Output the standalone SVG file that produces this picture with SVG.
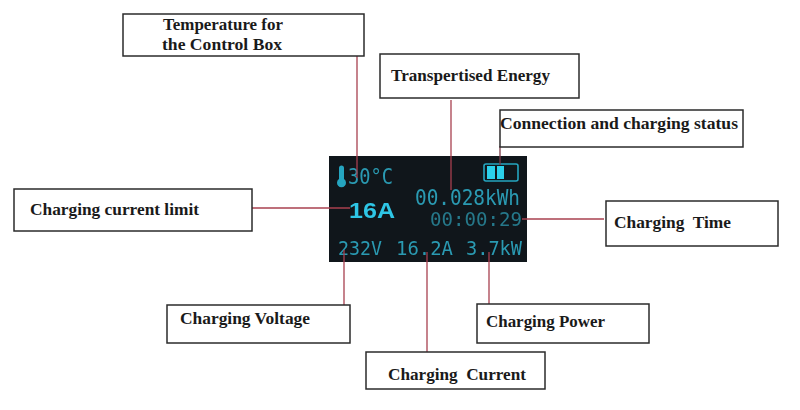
<svg xmlns="http://www.w3.org/2000/svg" width="800" height="410" viewBox="0 0 800 410">
<style>
.box{fill:#fff;stroke:#2b2b2b;stroke-width:1.5}
.lab{font-family:"Liberation Serif",serif;font-weight:bold;font-size:16.5px;fill:#1a1a1a}
.con{stroke:#a8404f;stroke-width:1.3;fill:none}
.scr{font-family:"DejaVu Sans Mono","Liberation Mono",monospace;fill:#2a9ab2;filter:url(#soft)}
</style>
<defs><filter id="soft" x="-5%" y="-20%" width="110%" height="140%"><feGaussianBlur stdDeviation="0.5"/></filter></defs>
<rect width="800" height="410" fill="#fff"/>
<g id="display">
<rect x="329" y="156" width="198" height="106" fill="#10161b"/>
<path d="M339 168a2.5 2.5 0 0 1 5 0v11a4.5 4.5 0 1 1-5 0z" fill="#25a5c0"/>
<text class="scr" x="348" y="184" font-size="21" textLength="45" lengthAdjust="spacingAndGlyphs">30°C</text>
<rect x="484" y="164" width="34" height="17" rx="2" fill="none" stroke="#25a5c0" stroke-width="1.6"/>
<rect x="487" y="166" width="8" height="13" fill="#2bd0ea"/>
<rect x="497" y="166" width="7" height="13" fill="#2bd0ea"/>
<text class="scr" x="415" y="205" font-size="21" textLength="105" lengthAdjust="spacingAndGlyphs">00.028kWh</text>
<text x="349" y="218" font-family="Liberation Sans,sans-serif" font-weight="bold" font-size="22" fill="#2fc6e6" textLength="46" lengthAdjust="spacingAndGlyphs" filter="url(#soft)">16A</text>
<text class="scr" x="430" y="226" font-size="19" textLength="92" lengthAdjust="spacingAndGlyphs" style="fill:#25788a">00:00:29</text>
<text class="scr" x="338" y="255" font-size="20" textLength="44" lengthAdjust="spacingAndGlyphs">232V</text>
<text class="scr" x="396" y="255" font-size="20" textLength="57" lengthAdjust="spacingAndGlyphs">16.2A</text>
<text class="scr" x="466" y="255" font-size="20" textLength="56" lengthAdjust="spacingAndGlyphs">3.7kW</text>
</g>
<g id="connectors">
<path class="con" d="M357 54V178"/>
<path class="con" d="M451 100V190"/>
<path class="con" d="M500 146V165" style="stroke:#7a3a48"/>
<path class="con" d="M252 208H350"/>
<path class="con" d="M522 219H604"/>
<path class="con" d="M344 250V306"/>
<path class="con" d="M427 252V352"/>
<path class="con" d="M489 252V304"/>
</g>
<g id="temperature"><rect class="box" x="123" y="14" width="241" height="42"/><text class="lab" x="163" y="30" textLength="120" lengthAdjust="spacingAndGlyphs">Temperature for</text><text class="lab" x="162" y="50" textLength="120" lengthAdjust="spacingAndGlyphs">the Control Box</text></g>
<g id="energy"><rect class="box" x="380" y="54" width="199" height="44"/><text class="lab" x="391" y="81" textLength="159" lengthAdjust="spacingAndGlyphs">Transpertised Energy</text></g>
<g id="status"><rect class="box" x="500" y="110" width="243" height="37"/><text class="lab" x="500" y="129" textLength="238" lengthAdjust="spacingAndGlyphs">Connection and charging status</text></g>
<g id="limit"><rect class="box" x="14" y="189" width="238" height="42"/><text class="lab" x="30" y="215" textLength="169" lengthAdjust="spacingAndGlyphs">Charging current limit</text></g>
<g id="time"><rect class="box" x="606" y="201" width="172" height="45"/><text class="lab" x="614" y="228" textLength="117" lengthAdjust="spacingAndGlyphs" xml:space="preserve">Charging  Time</text></g>
<g id="voltage"><rect class="box" x="167" y="305" width="183" height="38"/><text class="lab" x="180" y="324" textLength="130" lengthAdjust="spacingAndGlyphs">Charging Voltage</text></g>
<g id="power"><rect class="box" x="477" y="304" width="172" height="39"/><text class="lab" x="486" y="327" textLength="119" lengthAdjust="spacingAndGlyphs">Charging Power</text></g>
<g id="current"><rect class="box" x="366" y="352" width="179" height="37"/><text class="lab" x="388" y="380" textLength="138" lengthAdjust="spacingAndGlyphs" xml:space="preserve">Charging  Current</text></g>
</svg>
